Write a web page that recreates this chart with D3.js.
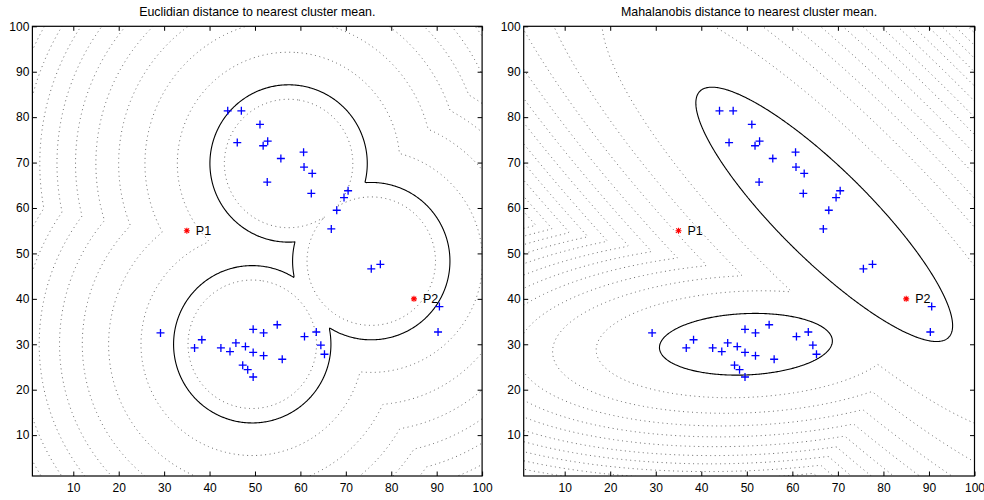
<!DOCTYPE html>
<html>
<head>
<meta charset="utf-8">
<script src="https://cdnjs.cloudflare.com/ajax/libs/d3/7.8.5/d3.min.js"></script>
<style>
  body { margin: 0; background: #fff; }
  svg { display: block; font-family: "Liberation Sans", Arial, sans-serif; }
</style>
</head>
<body>
<svg width="984" height="500"></svg>
<script>
// sample points (same in both panels)
const pointX = [44.0, 47.0, 51.1, 46.1, 51.8, 52.8, 55.7, 60.7, 60.8, 62.6, 52.7, 62.4, 70.5, 69.6, 68.0, 66.8, 75.6, 77.6, 90.6, 90.3,
                29.2, 36.7, 38.3, 42.5, 44.5, 45.8, 47.9, 49.6, 51.9, 49.6, 51.9, 54.9, 56.0, 47.3, 48.4, 49.6, 60.9, 63.5, 64.5, 65.3];
const pointY = [81.4, 81.4, 78.4, 74.4, 73.7, 74.7, 70.9, 72.3, 69.0, 67.6, 65.7, 63.2, 63.8, 62.3, 59.5, 55.4, 46.6, 47.6, 38.3, 32.7,
                32.5, 29.2, 31.0, 29.2, 28.4, 30.3, 29.5, 33.3, 32.5, 28.2, 27.5, 34.3, 26.7, 25.4, 24.4, 22.8, 31.7, 32.7, 29.8, 27.8];

// test points
const testX = [35, 85];
const testY = [55, 40];
const testLabel = ['P1', 'P2'];

// cluster means for the euclidean panel
const euclidMeans = [[57.4, 69.8], [49.4, 30.0], [75.6, 48.3]];
const euclidLevels = [200, 600, 1000, 1400, 1800, 2200, 2600, 3000, 3400, 3800, 4200];
const euclidSolid = 300;

// cluster means and covariances (xx, xy, yy) for the mahalanobis panel
const mahalMeans = [[49.8, 30.0], [67.0, 58.6]];
const mahalCov = [[360.5, 13.7, 46.2], [795, -690.8, 784]];
const mahalLevels = [3, 5, 7, 9, 11, 13, 15, 17, 19, 21, 23, 25, 27, 29, 31, 33, 35, 37, 39, 41];
const mahalSolid = 1;

const ticks = [10, 20, 30, 40, 50, 60, 70, 80, 90, 100];
const titles = ['Euclidian distance to nearest cluster mean.', 'Mahalanobis distance to nearest cluster mean.'];

const mahalInv = mahalCov.map(c => {
  let det = c[0] * c[2] - c[1] * c[1];
  return [c[2] / det, -c[1] / det, c[0] / det];
});

function euclid(px, py) {
  let best = Infinity;
  euclidMeans.forEach(m => {
    let d = (px - m[0]) ** 2 + (py - m[1]) ** 2;
    if (d < best) best = d;
  });
  return best;
}

function mahal(px, py) {
  let best = Infinity;
  mahalMeans.forEach((m, k) => {
    let q = mahalInv[k], dx = px - m[0], dy = py - m[1];
    let d = q[0] * dx * dx + 2 * q[1] * dx * dy + q[2] * dy * dy;
    if (d < best) best = d;
  });
  return best;
}

let svg = d3.select('svg');

function panel(idx, left, right, field, levels, solid) {
  let top = 26.3, bottom = 476;
  let x = d3.scaleLinear().domain([1, 100]).range([left, right]);
  let y = d3.scaleLinear().domain([1, 100]).range([bottom, top]);

  let g = svg.append('g');

  g.append('text')
    .attr('x', (left + right) / 2)
    .attr('y', 16)
    .attr('text-anchor', 'middle')
    .style('font-size', '12.4px')
    .text(titles[idx]);

  let clipId = 'clip' + idx;
  svg.append('clipPath').attr('id', clipId)
    .append('rect')
    .attr('x', left).attr('y', top)
    .attr('width', right - left).attr('height', bottom - top);

  // grid of the distance field, a bit larger than the plot
  let g0 = -4, step = 0.25;
  let n = Math.round((105 - g0) / step) + 1;
  let vals = new Float64Array(n * n);
  for (let j = 0; j < n; j++)
    for (let i = 0; i < n; i++)
      vals[j * n + i] = field(g0 + i * step, g0 + j * step);

  let proj = d3.geoTransform({
    point: function(px, py) {
      this.stream.point(x(g0 + (px - 0.5) * step), y(g0 + (py - 0.5) * step));
    }
  });
  let path = d3.geoPath(proj);

  let cg = g.append('g').attr('clip-path', `url(#${clipId})`);

  cg.selectAll('path.dot')
    .data(d3.contours().size([n, n]).thresholds(levels)(vals))
    .enter()
    .append('path')
    .attr('d', path)
    .attr('fill', 'none')
    .attr('stroke', '#666')
    .attr('stroke-width', 1)
    .attr('stroke-dasharray', '1,3.5');

  cg.selectAll('path.solid')
    .data(d3.contours().size([n, n]).thresholds([solid])(vals))
    .enter()
    .append('path')
    .attr('d', path)
    .attr('fill', 'none')
    .attr('stroke', '#000')
    .attr('stroke-width', 1.1);

  // blue plus markers
  g.selectAll('path.pt')
    .data(pointX)
    .enter()
    .append('path')
    .attr('d', (d, i) => {
      let cx = x(d), cy = y(pointY[i]);
      return `M${cx - 4},${cy}h8M${cx},${cy - 4}v8`;
    })
    .attr('stroke', '#0000ff')
    .attr('stroke-width', 1.3);

  // red stars with labels
  testX.forEach((d, i) => {
    let cx = x(d), cy = y(testY[i]), r = 3;
    g.append('path')
      .attr('d', `M${cx - r},${cy}h${2 * r}M${cx},${cy - r}v${2 * r}` +
                 `M${cx - r * 0.75},${cy - r * 0.75}l${1.5 * r},${1.5 * r}` +
                 `M${cx - r * 0.75},${cy + r * 0.75}l${1.5 * r},${-1.5 * r}`)
      .attr('stroke', '#ff0000')
      .attr('stroke-width', 1.1);
    g.append('text')
      .attr('x', cx + 9)
      .attr('y', cy)
      .attr('dy', '0.35em')
      .style('font-size', '12.5px')
      .text(testLabel[i]);
  });

  // axes with inward ticks on all four sides
  let xAxis = d3.axisBottom(x).tickValues(ticks).tickSize(-4.5).tickPadding(7);
  let yAxis = d3.axisLeft(y).tickValues(ticks).tickSize(-4.5).tickPadding(3);

  g.append('g').attr('transform', `translate(0,${bottom})`).call(xAxis);
  g.append('g').attr('transform', `translate(${left},0)`).call(yAxis);
  g.append('g').attr('transform', `translate(0,${top})`)
    .call(d3.axisTop(x).tickValues(ticks).tickSize(-4.5).tickFormat(''));
  g.append('g').attr('transform', `translate(${right},0)`)
    .call(d3.axisRight(y).tickValues(ticks).tickSize(-4.5).tickFormat(''));

  g.selectAll('.domain').remove();
  g.selectAll('.tick line').attr('stroke', '#000');
  g.selectAll('.tick text').style('font-size', '12px').attr('fill', '#000')
    .style('font-family', '"Liberation Sans", Arial, sans-serif');

  g.append('rect')
    .attr('x', left).attr('y', top)
    .attr('width', right - left).attr('height', bottom - top)
    .attr('fill', 'none')
    .attr('stroke', '#000')
    .attr('stroke-width', 1.2);
}

panel(0, 32.4, 482.1, euclid, euclidLevels, euclidSolid);
panel(1, 523.7, 974.5, mahal, mahalLevels, mahalSolid);
</script>
</body>
</html>
